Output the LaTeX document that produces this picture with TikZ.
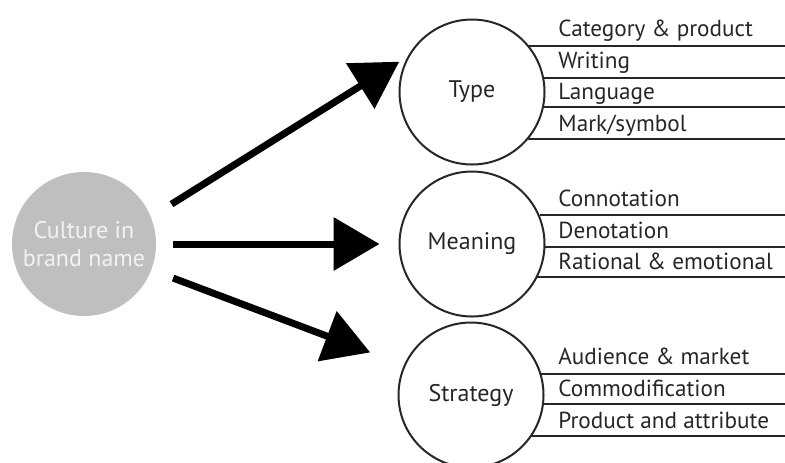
\documentclass[tikz,border=0pt]{standalone}
\usepackage{fontspec}
\setmainfont{PT Sans}
\usetikzlibrary{arrows.meta, positioning, calc}

\begin{document}
\begin{tikzpicture}[x=0.5pt, y=-0.5pt,
    culture/.style={circle, fill=black!25, text=white!95!black, minimum size=72pt, inner sep=0pt, align=center, font=\fontsize{12}{14}\selectfont},
    topic/.style={circle, draw=black!85, line width=1pt, minimum size=72.5pt, inner sep=0pt, text=black!85, font=\fontsize{12}{14}\selectfont},
    facet/.style={anchor=base west, inner sep=0pt, text=black!85, font=\fontsize{11.6}{14}\selectfont},
    divider/.style={draw=black!85, line width=1pt},
    bigarrow/.style={-{Triangle[length=23pt, width=26pt]}, line width=3.5pt}]

\useasboundingbox (0,0) rectangle (785,462);
\coordinate (edge) at (785,0);

% Source circle (left)
\node[culture] (culture) at (84,244) {Culture in\\brand name};

% Three topic circles (right)
\node[topic] (type) at (472,92) {Type};
\node[topic] (meaning) at (472,244) {Meaning};
\node[topic] (strategy) at (471,395) {Strategy};

% Big arrows to the topics
\draw[bigarrow, shorten <=12pt, shorten >=5pt] (culture.22) -- (type.151);
\draw[bigarrow, shorten <=8.5pt, shorten >=9.5pt] (culture.east) -- (meaning.west);
\draw[bigarrow, shorten <=11.5pt, shorten >=18pt] (culture.-21) -- (strategy.156);

% Type items
\foreach \yy/\txt in {45/Category \& product, 77/Writing, 108/Language, 140/{Mark/symbol}}{
  \pgfmathsetmacro\ang{asin((92-\yy)/73.5)}
  \draw[divider] (type.\ang) -- (type.\ang -| edge);
  \node[facet] (t-\yy) at (558,\yy-9) {\txt};
}

% Meaning items
\foreach \yy/\txt in {215/Connotation, 247/Denotation, 278/Rational \& emotional}{
  \pgfmathsetmacro\ang{asin((244-\yy)/73.5)}
  \draw[divider] (meaning.\ang) -- (meaning.\ang -| edge);
  \node[facet] (m-\yy) at (558,\yy-9) {\txt};
}

% Strategy items
\foreach \yy/\txt in {373/Audience \& market, 405/Commodification, 437/Product and attribute}{
  \pgfmathsetmacro\ang{asin((395-\yy)/73.5)}
  \draw[divider] (strategy.\ang) -- (strategy.\ang -| edge);
  \node[facet] (s-\yy) at (558,\yy-9) {\txt};
}
\end{tikzpicture}
\end{document}
